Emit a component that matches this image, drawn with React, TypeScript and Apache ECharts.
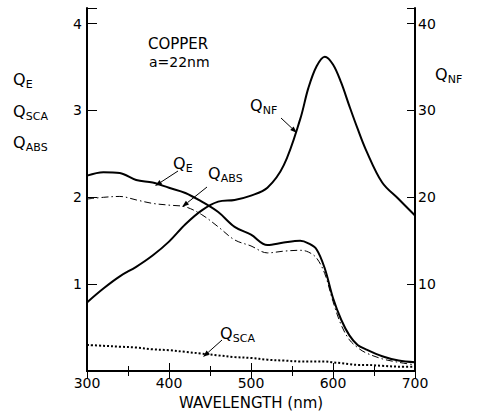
import React, { useEffect, useRef } from "react";
import * as echarts from "echarts";

// Wavelength grid (nm) and efficiency curves for a 22 nm copper sphere
const wavelengths = [300, 320, 340, 360, 380, 400, 420, 440, 460, 480, 500, 520, 540, 560, 570, 580, 590, 600, 610, 620, 630, 640, 660, 680, 700];
const qExt = [2.25, 2.29, 2.28, 2.2, 2.17, 2.11, 2.05, 1.95, 1.83, 1.66, 1.57, 1.45, 1.48, 1.5, 1.47, 1.4, 1.18, 0.84, 0.59, 0.41, 0.3, 0.25, 0.17, 0.12, 0.1];
const qAbs = [1.98, 2.0, 2.01, 1.97, 1.93, 1.91, 1.89, 1.8, 1.66, 1.51, 1.44, 1.36, 1.38, 1.39, 1.37, 1.3, 1.12, 0.8, 0.53, 0.36, 0.27, 0.21, 0.14, 0.1, 0.07];
const qSca = [0.3, 0.29, 0.28, 0.27, 0.25, 0.24, 0.22, 0.2, 0.18, 0.16, 0.15, 0.13, 0.12, 0.11, 0.11, 0.11, 0.11, 0.1, 0.09, 0.08, 0.07, 0.07, 0.06, 0.05, 0.05];
const qNf = [7.9, 9.5, 10.9, 12.0, 13.3, 14.9, 16.9, 18.5, 19.5, 19.7, 20.2, 21.1, 23.7, 29.0, 32.6, 35.1, 36.2, 35.3, 33.2, 30.5, 27.9, 25.5, 21.7, 19.8, 17.9];

const FONT = "DejaVu Sans";

const pairs = (vals: number[]) => wavelengths.map((w, i) => [w, vals[i]]);

function arrow(x1: number, y1: number, x2: number, y2: number) {
  const dx = x2 - x1;
  const dy = y2 - y1;
  const len = Math.hypot(dx, dy);
  const ux = dx / len;
  const uy = dy / len;
  const hl = 7;
  const hw = 2.5;
  const bx = x2 - ux * hl;
  const by = y2 - uy * hl;
  return [
    { type: "line", shape: { x1, y1, x2: bx, y2: by }, style: { stroke: "#000", lineWidth: 1 } },
    {
      type: "polygon",
      shape: { points: [[x2, y2], [bx - uy * hw, by + ux * hw], [bx + uy * hw, by - ux * hw]] },
      style: { fill: "#000" },
    },
  ];
}

// "Q" with a subscript, drawn as two text pieces
function qLabel(x: number, y: number, sub: string, qSize = 16, subSize = 11) {
  return [
    { type: "text", x, y, style: { text: "Q", font: `${qSize}px "${FONT}"`, fill: "#000", align: "left", verticalAlign: "middle" } },
    {
      type: "text",
      x: x + qSize * 0.8,
      y: y + 5,
      style: { text: sub, font: `${subSize}px "${FONT}"`, fill: "#000", align: "left", verticalAlign: "middle" },
    },
  ];
}

export default function App() {
  const ref = useRef<HTMLDivElement>(null);

  useEffect(() => {
    document.body.style.margin = "0";
    if (!ref.current) return;
    const chart = echarts.init(ref.current, null, { renderer: "svg" });

    const xAxisBase = {
      type: "value",
      min: 300,
      max: 700,
      interval: 100,
      axisLine: { show: true, lineStyle: { color: "#000", width: 2 } },
      axisTick: { show: true, inside: true, length: 8, lineStyle: { color: "#000", width: 1 } },
      minorTick: { show: true, splitNumber: 2, length: 5, lineStyle: { color: "#000", width: 1 } },
      splitLine: { show: false },
      minorSplitLine: { show: false },
    };

    chart.setOption({
      animation: false,
      backgroundColor: "#fff",
      grid: { left: 87, right: 62, top: 8, bottom: 40 },
      xAxis: [
        {
          ...xAxisBase,
          position: "bottom",
          name: "WAVELENGTH (nm)",
          nameLocation: "middle",
          nameGap: 24,
          nameTextStyle: { color: "#000", fontFamily: FONT, fontSize: 15 },
          axisLabel: { color: "#000", fontFamily: FONT, fontSize: 14, margin: 5 },
        },
        {
          ...xAxisBase,
          position: "top",
          axisLine: { show: true, lineStyle: { color: "#000", width: 1.5 } },
          axisLabel: { show: false },
        },
      ],
      yAxis: [
        {
          type: "value",
          position: "left",
          min: 0,
          max: 4.18,
          interval: 1,
          axisLine: { show: true, lineStyle: { color: "#000", width: 2 } },
          axisTick: { show: true, inside: true, length: 10, lineStyle: { color: "#000", width: 1 } },
          splitLine: { show: false },
          axisLabel: {
            color: "#000",
            fontFamily: FONT,
            fontSize: 14,
            margin: 5,
            formatter: (v: number) => (v >= 1 && v <= 4 && Number.isInteger(v) ? String(v) : ""),
          },
        },
        {
          type: "value",
          position: "right",
          min: 0,
          max: 41.8,
          interval: 10,
          axisLine: { show: true, lineStyle: { color: "#000", width: 2 } },
          axisTick: { show: true, inside: true, length: 8, lineStyle: { color: "#000", width: 1 } },
          splitLine: { show: false },
          axisLabel: {
            color: "#000",
            fontFamily: FONT,
            fontSize: 14,
            margin: 3,
            formatter: (v: number) => (v >= 10 && v <= 40 && Number.isInteger(v) ? String(v) : ""),
          },
        },
      ],
      series: [
        {
          name: "QE",
          type: "line",
          yAxisIndex: 0,
          data: pairs(qExt),
          smooth: 0.35,
          symbol: "none",
          lineStyle: { color: "#000", width: 2 },
        },
        {
          name: "QABS",
          type: "line",
          yAxisIndex: 0,
          data: pairs(qAbs),
          smooth: 0.35,
          symbol: "none",
          lineStyle: { color: "#000", width: 1, type: [7, 3, 1.5, 3] },
        },
        {
          name: "QSCA",
          type: "line",
          yAxisIndex: 0,
          data: pairs(qSca),
          smooth: 0.35,
          symbol: "none",
          lineStyle: { color: "#000", width: 2, type: [2, 2] },
        },
        {
          name: "QNF",
          type: "line",
          yAxisIndex: 1,
          data: pairs(qNf),
          smooth: 0.35,
          symbol: "none",
          lineStyle: { color: "#000", width: 2 },
        },
      ],
      graphic: [
        { type: "text", x: 148, y: 44, style: { text: "COPPER", font: `15px "${FONT}"`, fill: "#000", verticalAlign: "middle" } },
        { type: "text", x: 149, y: 62, style: { text: "a=22nm", font: `14px "${FONT}"`, fill: "#000", verticalAlign: "middle" } },
        ...qLabel(13, 79, "E"),
        ...qLabel(13, 111, "SCA"),
        ...qLabel(13, 142, "ABS"),
        ...qLabel(435, 74, "NF"),
        ...qLabel(173, 163, "E"),
        ...qLabel(208, 173, "ABS"),
        ...qLabel(250, 105, "NF"),
        ...qLabel(220, 333, "SCA"),
        ...arrow(178, 171, 155, 186),
        ...arrow(207, 187, 182, 207),
        ...arrow(281, 118, 297, 133),
        ...arrow(222, 340, 203, 357),
      ],
    });

    return () => chart.dispose();
  }, []);

  return <div ref={ref} style={{ width: 477, height: 415 }} />;
}
